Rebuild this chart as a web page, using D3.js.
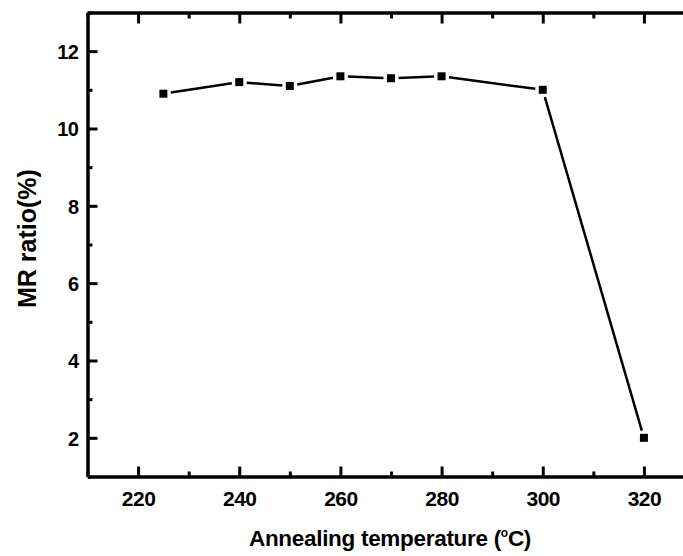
<!DOCTYPE html>
<html>
<head>
<meta charset="utf-8">
<script src="https://cdn.jsdelivr.net/npm/d3@7"></script>
<style>
  html, body { margin: 0; padding: 0; background: #fff; }
  svg { display: block; }
  .tick text { font-family: "Liberation Sans", Arial, sans-serif; font-weight: bold; fill: #000; }
</style>
</head>
<body>
<svg id="chart" width="683" height="556"></svg>
<script>
// Annealing temperature (°C) and measured MR ratio (%)
const temperatures = [225, 240, 250, 260, 270, 280, 300, 320];
const mrRatio      = [10.9, 11.2, 11.1, 11.35, 11.3, 11.35, 11.0, 2.0];

const xMajorTicks = [220, 240, 260, 280, 300, 320];
const xMinorTicks = [210, 230, 250, 270, 290, 310, 330];
const yMajorTicks = [2, 4, 6, 8, 10, 12];
const yMinorTicks = [1, 3, 5, 7, 9, 11, 13];

const xTitle = "Annealing temperature (";
const yTitle = "MR ratio(%)";

const svg = d3.select("#chart");
const plotLeft = 87.5, plotRight = 694.5, plotTop = 12.5, plotBottom = 476.5;

const x = d3.scaleLinear().domain([210, 330]).range([plotLeft, plotRight]);
const y = d3.scaleLinear().domain([1, 13]).range([plotBottom, plotTop]);

function styleAxis(g) {
  g.select(".domain").attr("stroke", "#000").attr("stroke-width", 3);
  g.selectAll(".tick line").attr("stroke", "#000").attr("stroke-width", 3);
}

// Minor ticks on all four sides
svg.append("g").attr("transform", `translate(0,${plotBottom})`)
  .call(d3.axisBottom(x).tickValues(xMinorTicks).tickSize(-5).tickSizeOuter(0).tickFormat(""))
  .call(styleAxis);
svg.append("g").attr("transform", `translate(0,${plotTop})`)
  .call(d3.axisTop(x).tickValues(xMinorTicks).tickSize(-6).tickSizeOuter(0).tickFormat(""))
  .call(styleAxis);
svg.append("g").attr("transform", `translate(${plotLeft},0)`)
  .call(d3.axisLeft(y).tickValues(yMinorTicks).tickSize(-5).tickSizeOuter(0).tickFormat(""))
  .call(styleAxis);
svg.append("g").attr("transform", `translate(${plotRight},0)`)
  .call(d3.axisRight(y).tickValues(yMinorTicks).tickSize(-5).tickSizeOuter(0).tickFormat(""))
  .call(styleAxis);

// Major ticks and labels
const xAxis = svg.append("g").attr("transform", `translate(0,${plotBottom})`)
  .call(d3.axisBottom(x).tickValues(xMajorTicks).tickSize(-10).tickSizeOuter(0).tickFormat(d3.format("d")))
  .call(styleAxis);
xAxis.selectAll(".tick text")
  .attr("y", 29).attr("dy", 0)
  .style("font-size", "21px").style("letter-spacing", "-0.5px");

svg.append("g").attr("transform", `translate(0,${plotTop})`)
  .call(d3.axisTop(x).tickValues(xMajorTicks).tickSize(-11).tickSizeOuter(0).tickFormat(""))
  .call(styleAxis);

const yAxis = svg.append("g").attr("transform", `translate(${plotLeft},0)`)
  .call(d3.axisLeft(y).tickValues(yMajorTicks).tickSize(-10).tickSizeOuter(0).tickFormat(d3.format("d")))
  .call(styleAxis);
yAxis.selectAll(".tick text")
  .attr("x", -9).attr("dy", "0.36em")
  .style("font-size", "20px").style("letter-spacing", "-0.5px");

svg.append("g").attr("transform", `translate(${plotRight},0)`)
  .call(d3.axisRight(y).tickValues(yMajorTicks).tickSize(-10).tickSizeOuter(0).tickFormat(""))
  .call(styleAxis);

// Connecting line: segments stop short of each marker
const pts = temperatures.map((t, i) => [x(t), y(mrRatio[i])]);
const gap = 7.5;
const segs = d3.pairs(pts).map(([a, b]) => {
  const dx = b[0] - a[0], dy = b[1] - a[1];
  const len = Math.hypot(dx, dy);
  const ux = dx / len, uy = dy / len;
  return [[a[0] + ux * gap, a[1] + uy * gap], [b[0] - ux * gap, b[1] - uy * gap]];
});
svg.append("g").selectAll("line").data(segs).join("line")
  .attr("x1", d => d[0][0]).attr("y1", d => d[0][1])
  .attr("x2", d => d[1][0]).attr("y2", d => d[1][1])
  .attr("stroke", "#000").attr("stroke-width", 2.5);

// Square markers
const ms = 8;
svg.append("g").selectAll("rect").data(temperatures).join("rect")
  .attr("x", (d) => x(d) - ms / 2)
  .attr("y", (d, i) => y(mrRatio[i]) - ms / 2)
  .attr("width", ms).attr("height", ms)
  .attr("fill", "#000");

// Axis titles
const xt = svg.append("text")
  .attr("x", (plotLeft + plotRight) / 2 - 1).attr("y", 546)
  .attr("text-anchor", "middle")
  .style("font-family", "'Liberation Sans', Arial, sans-serif")
  .style("font-weight", "bold").style("font-size", "22.5px")
  .style("letter-spacing", "-0.3px");
xt.append("tspan").text(xTitle);
xt.append("tspan").attr("dy", -9).style("font-size", "12px").text("o");
xt.append("tspan").attr("dy", 9).text("C)");

svg.append("text")
  .attr("transform", "translate(36,308) rotate(-90)")
  .attr("text-anchor", "start")
  .style("font-family", "'Liberation Sans', Arial, sans-serif")
  .style("font-weight", "bold").style("font-size", "25px")
  .text(yTitle);
</script>
</body>
</html>
